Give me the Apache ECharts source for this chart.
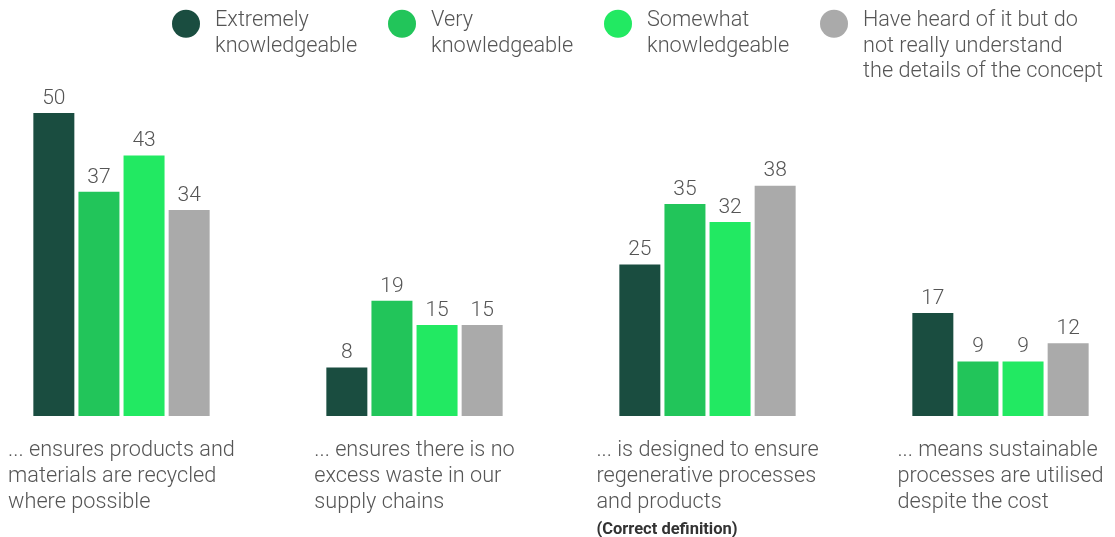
<!DOCTYPE html>
<html>
<head>
<meta charset="utf-8">
<style>
  html, body { margin: 0; padding: 0; background: #ffffff; }
  #chart { width: 1115px; height: 537px; }
</style>
<script src="https://cdn.jsdelivr.net/npm/echarts@6/dist/echarts.min.js"></script>
</head>
<body>
<div id="chart"></div>
<script>
// Statements about the concept, one per group of bars
const categories = [
  '... ensures products and\nmaterials are recycled\nwhere possible',
  '... ensures there is no\nexcess waste in our\nsupply chains',
  '... is designed to ensure\nregenerative processes\nand products',
  '... means sustainable\nprocesses are utilised\ndespite the cost'
];
const notes = ['', '', '(Correct definition)', ''];

// Self-rated knowledge level of respondents
const seriesNames = [
  'Extremely\nknowledgeable',
  'Very\nknowledgeable',
  'Somewhat\nknowledgeable',
  'Have heard of it but do\nnot really understand\nthe details of the concept'
];
const extremely = [50, 8, 25, 17];
const very = [37, 19, 35, 9];
const somewhat = [43, 15, 32, 9];
const heardOf = [34, 15, 38, 12];

const colors = ['#1a4d40', '#22c55a', '#22e962', '#aaaaaa'];
const FONT = 'Roboto, "Noto Sans", sans-serif';
const TEXT = '#555555';
const LEGEND_LINE = 25.5;
const LABEL_SIZE = 21.7;

const chart = echarts.init(document.getElementById('chart'), null, { renderer: 'canvas' });

const values = [extremely, very, somewhat, heardOf];

// Legend text sits with its first line beside the dot: an invisible spacer
// line on top balances the vertical centring of multi-line text
const legendWidths = [163, 163, 163, 245];
const legendData = seriesNames.map((name, i) => ({
  name: name,
  icon: 'circle',
  textStyle: { width: legendWidths[i] }
}));

const legendRich = {
  t: {
    fontFamily: FONT,
    fontSize: LABEL_SIZE,
    fontWeight: 300,
    color: TEXT,
    lineHeight: LEGEND_LINE
  }
};
[1, 2].forEach(k => {
  legendRich['s' + k] = { fontSize: 1, lineHeight: k * LEGEND_LINE - 6 };
});

chart.setOption({
  animation: false,
  color: colors,
  textStyle: { fontFamily: FONT },
  legend: {
    data: legendData,
    left: 172,
    top: -37,
    padding: 0,
    itemGap: 10,
    itemWidth: 28,
    itemHeight: 28,
    selectedMode: false,
    formatter: function (name) {
      const lines = name.split('\n');
      return '{s' + (lines.length - 1) + '| }\n' +
        lines.map(l => '{t|' + l + '}').join('\n');
    },
    textStyle: {
      fontFamily: FONT,
      fontSize: LABEL_SIZE,
      fontWeight: 300,
      color: TEXT,
      lineHeight: LEGEND_LINE,
      padding: [0, 0, 0, 10],
      overflow: 'none',
      rich: legendRich
    }
  },
  grid: {
    left: -25,
    right: -32,
    top: 113,
    bottom: 121,
    containLabel: false,
    outerBoundsMode: 'none'
  },
  xAxis: {
    type: 'category',
    data: categories,
    axisLine: { show: false },
    axisTick: { show: false },
    axisLabel: {
      interval: 0,
      margin: 22,
      align: 'center',
      verticalAlign: 'top',
      fontFamily: FONT,
      fontSize: LABEL_SIZE,
      fontWeight: 300,
      color: TEXT,
      lineHeight: 26,
      formatter: function (value, idx) {
        let s = value.split('\n').map(l => '{t|' + l + '}').join('\n');
        if (notes[idx]) s += '\n{n|' + notes[idx] + '}';
        return s;
      },
      rich: {
        t: {
          align: 'left',
          fontFamily: FONT,
          fontSize: LABEL_SIZE,
          fontWeight: 300,
          color: TEXT,
          lineHeight: 26
        },
        n: {
          align: 'left',
          fontFamily: FONT,
          fontSize: 16.5,
          fontWeight: 'bold',
          color: '#333333',
          lineHeight: 27
        }
      }
    }
  },
  yAxis: {
    type: 'value',
    min: 0,
    max: 50,
    show: false,
    splitLine: { show: false }
  },
  series: seriesNames.map((name, i) => ({
    name: name,
    type: 'bar',
    data: values[i],
    barWidth: 41,
    barGap: '10%',
    itemStyle: { color: colors[i] },
    label: {
      show: true,
      position: 'top',
      distance: 4,
      fontFamily: FONT,
      fontSize: 21,
      fontWeight: 300,
      color: TEXT
    }
  }))
});
</script>
</body>
</html>
